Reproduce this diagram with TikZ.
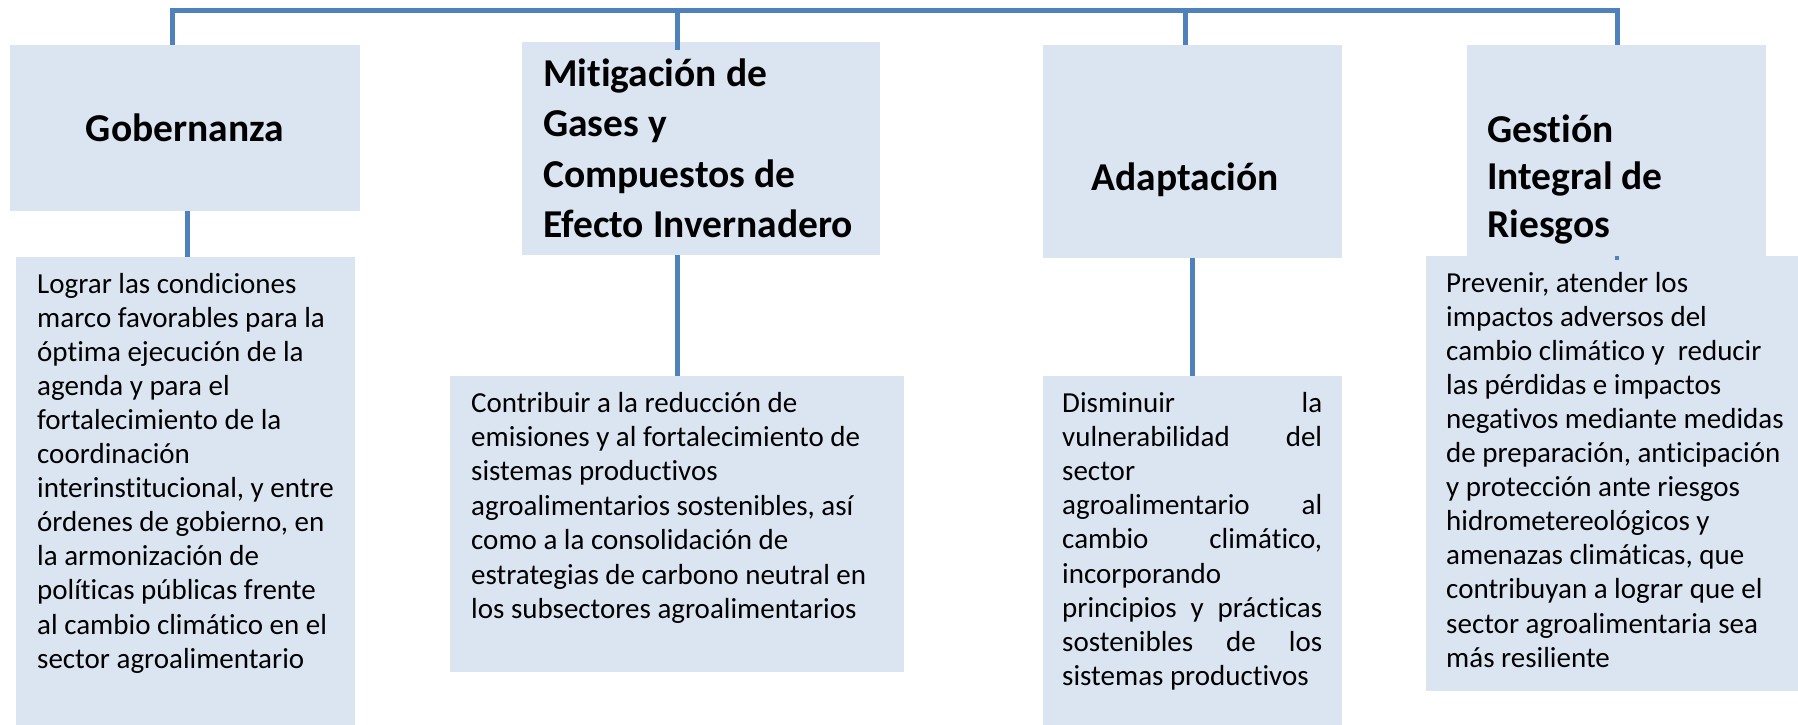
\documentclass[tikz,border=0pt]{standalone}
\usepackage{fontspec}
\setmainfont{Carlito}[Ligatures=NoCommon]
\definecolor{boxfill}{HTML}{DBE5F1}
\definecolor{lineblue}{HTML}{4F81BD}
\newcommand{\headfont}{\fontsize{39.5}{50.5}\selectfont\bfseries}
\newcommand{\bodyfont}[1]{\fontsize{29}{#1}\selectfont}
\begin{document}
\begin{tikzpicture}[x=1pt,y=-1pt,
  box/.style={fill=boxfill, draw=none, inner sep=0pt, anchor=north west},
  conn/.style={draw=lineblue, line width=5pt},
  txt/.style={inner sep=0pt, anchor=base west},
  headc/.style={inner sep=0pt, anchor=base, font=\headfont}]
\useasboundingbox (0,0) rectangle (1798,725);
\fill[white] (0,0) rectangle (1798,725);

% upper boxes
\node[box, minimum width=350pt, minimum height=166pt] (gob) at (10,45) {};
\node[box, minimum width=358pt, minimum height=213pt] (mit) at (522,42) {};
\node[box, minimum width=299pt, minimum height=213pt] (ada) at (1043,45) {};
\node[box, minimum width=299pt, minimum height=211pt] (ges) at (1467,45) {};
% lower boxes
\node[box, minimum width=339pt, minimum height=468pt] (gobT) at (16,257) {};
\node[box, minimum width=454pt, minimum height=296pt] (mitT) at (450,376) {};
\node[box, minimum width=299pt, minimum height=349pt] (adaT) at (1043,376) {};
\node[box, minimum width=372pt, minimum height=435pt] (gesT) at (1426,256) {};

% headings
\node[headc] (gobH) at (185,141) {Gobernanza};
\node[txt] (mitH) at (543,86) {\parbox[t]{340pt}{\headfont Mitigación de\\Gases y\\Compuestos de\\Efecto Invernadero}};
\node[headc] (adaH) at (1185,190) {Adaptación};
\node[txt] (gesH) at (1487,142) {\parbox[t]{270pt}{\fontsize{39.5}{47.5}\selectfont\bfseries Gestión\\Integral de\\Riesgos}};

% body texts
\node[txt] (gobB) at (37,293) {\parbox[t]{330pt}{\bodyfont{34.1}%
Lograr las condiciones\\
marco favorables para la\\
óptima ejecución de la\\
agenda y para el\\
fortalecimiento de la\\
coordinación\\
interinstitucional, y entre\\
órdenes de gobierno, en\\
la armonización de\\
políticas públicas frente\\
al cambio climático en el\\
sector agroalimentario}};

\node[txt] (mitB) at (471,412) {\parbox[t]{440pt}{\bodyfont{34.4}%
Contribuir a la reducción de\\
emisiones y al fortalecimiento de\\
sistemas productivos\\
agroalimentarios sostenibles, así\\
como a la consolidación de\\
estrategias de carbono neutral en\\
los subsectores agroalimentarios}};

\node[txt] (adaB) at (1062,412) {\parbox[t]{280pt}{\bodyfont{34.2}%
\makebox[260pt][s]{Disminuir la}\\
\makebox[260pt][s]{vulnerabilidad del}\\
sector\\
\makebox[260pt][s]{agroalimentario al}\\
\makebox[260pt][s]{cambio climático,}\\
incorporando\\
\makebox[260pt][s]{principios y prácticas}\\
\makebox[260pt][s]{sostenibles de los}\\
sistemas productivos}};

\node[txt] (gesB) at (1446,292) {\parbox[t]{350pt}{\bodyfont{34.1}%
Prevenir, atender los\\
impactos adversos del\\
cambio climático y\ \ reducir\\
las pérdidas e impactos\\
negativos mediante medidas\\
de preparación, anticipación\\
y protección ante riesgos\\
hidrometereológicos y\\
amenazas climáticas, que\\
contribuyan a lograr que el\\
sector agroalimentaria sea\\
más resiliente}};

% connectors
\coordinate (busL) at (172,11);
\coordinate (busM) at (677,11);
\coordinate (busA) at (1185,11);
\coordinate (busR) at (1617,11);
\coordinate (gx) at (187,0);
\coordinate (ax) at (1192,0);
\draw[conn] (busL |- gob.north) -- (busL) -- (busR) -- (busR |- ges.north);
\draw[conn] (busM) -- ([yshift=-8pt]busM |- mit.north);
\draw[conn] (busA) -- (busA |- ada.north);
\draw[conn] (gx |- gob.south) -- (gx |- gobT.north);
\draw[conn] (busM |- mit.south) -- (busM |- mitT.north);
\draw[conn] (ax |- ada.south) -- (ax |- adaT.north);
\draw[draw=lineblue, line width=4pt] (busR |- ges.south) -- ([yshift=-4pt]busR |- ges.south);
\end{tikzpicture}
\end{document}
